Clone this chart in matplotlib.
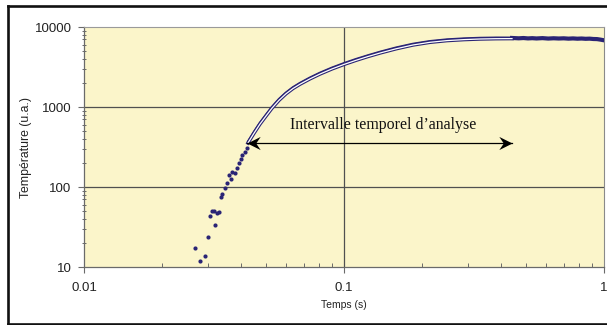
import matplotlib
matplotlib.use('Agg')
import matplotlib.pyplot as plt
from matplotlib.lines import Line2D
from matplotlib.path import Path
from matplotlib.ticker import FixedLocator, FixedFormatter, NullFormatter

# ---------------- data ----------------
# early scattered measurement points (s, u.a.)
scatter_t = [0.0267, 0.0279, 0.0293, 0.0301, 0.0305, 0.0310, 0.0315, 0.0320, 0.0326,
             0.0332, 0.0336, 0.0340, 0.0348, 0.0356, 0.0361, 0.0369, 0.0372, 0.0380,
             0.0388, 0.0395, 0.0401, 0.0407, 0.0416, 0.0422]
scatter_T = [17.4, 11.9, 13.6, 23.5, 43.4, 49.5, 49.5, 33.2, 47.0,
             49.0, 75.7, 81.5, 98.0, 111.0, 141.0, 126.0, 152.0, 148.0,
             174.0, 201.0, 222.0, 251.0, 276.0, 305.0]

# dense measurement curve (drawn as a dark line)
data_t = [0.04272, 0.04507, 0.04753, 0.05012, 0.05284, 0.05623, 0.05982, 0.06364,
          0.06772, 0.07401, 0.08086, 0.08991, 0.1000, 0.1112, 0.1237, 0.1376,
          0.1585, 0.1842, 0.2141, 0.2489, 0.2894, 0.3334, 0.3842, 0.4428]
data_T = [366, 486, 632, 795, 995, 1250, 1505, 1755, 1985, 2320, 2665, 3085,
          3510, 3950, 4400, 4870, 5500, 6130, 6620, 6950, 7150, 7270, 7320, 7300]

# plateau of the measurement (thick band)
plateau_t = [0.443, 0.47, 0.49, 0.51, 0.53, 0.55, 0.58, 0.61, 0.64, 0.67, 0.70,
             0.73, 0.76, 0.79, 0.82, 0.85, 0.88, 0.91, 0.94, 0.97, 1.0]
plateau_T = [7290, 7220, 7280, 7200, 7250, 7190, 7260, 7170, 7230, 7180, 7220,
             7150, 7200, 7140, 7180, 7120, 7150, 7080, 7060, 6950, 6820]

# fitted curve over the analysis interval
fit_t = [0.04272, 0.04507, 0.04753, 0.05012, 0.05284, 0.05623, 0.05982, 0.06364,
         0.06772, 0.07401, 0.08086, 0.08991, 0.1000, 0.1112, 0.1237, 0.1376,
         0.1585, 0.1842, 0.2141, 0.2489, 0.2894, 0.3334, 0.3842, 0.4428]
fit_T = [354.8, 470.5, 613.2, 771.6, 966.1, 1212.8, 1462.2, 1703, 1927.5, 2251,
         2585, 2994, 3408, 3835, 4278, 4732, 5340, 5957, 6438, 6761, 6957,
         7079, 7141, 7161]

arrow_t = [0.0425, 0.4441]
arrow_T = 352
label_text = "Intervalle temporel d\u2019analyse"
label_t, label_T = 0.0620, 596

x_ticks = [0.01, 0.1, 1]
x_labels = ["0.01", "0.1", "1"]
y_ticks = [10, 100, 1000, 10000]
y_labels = ["10", "100", "1000", "10000"]

# ---------------- figure ----------------
W, H = 607, 325
fig = plt.figure(figsize=(W / 100, H / 100), dpi=100)
fig.patch.set_facecolor('white')
ax = fig.add_axes([84 / W, (H - 267) / H, (604 - 84) / W, 240 / H])

NAVY = '#2a2475'
ax.set_facecolor('#fbf5ca')
ax.set_xscale('log')
ax.set_yscale('log')
ax.set_xlim(0.01, 1)
ax.set_ylim(10, 10000)

# grid
for gx in [0.1]:
    ax.axvline(gx, color='#505050', lw=0.9, zorder=1)
for gy in [100, 1000]:
    ax.axhline(gy, color='#505050', lw=0.9, zorder=1)

# measurement
ax.plot(scatter_t, scatter_T, 'o', color=NAVY, ms=3.0, mew=0, zorder=3)
ax.plot(data_t, data_T, '-', color=NAVY, lw=1.9, zorder=3, solid_capstyle='round')
ax.plot(plateau_t, plateau_T, '-', color=NAVY, lw=3.0, zorder=3)
# fit: white line with navy outline
ax.plot(fit_t, fit_T, '-', color=NAVY, lw=2.5, zorder=4)
ax.plot(fit_t, fit_T, '-', color='white', lw=0.9, zorder=5)

# arrow: shaft + stealth heads
ax.plot(arrow_t, [arrow_T, arrow_T], '-', color='black', lw=0.9, zorder=6)
left_head = Path([(0, 0), (1, 0.5), (0.66, 0), (1, -0.5), (0, 0)],
                 [Path.MOVETO, Path.LINETO, Path.LINETO, Path.LINETO, Path.CLOSEPOLY])
right_head = Path([(0, 0), (-1, 0.5), (-0.66, 0), (-1, -0.5), (0, 0)],
                  [Path.MOVETO, Path.LINETO, Path.LINETO, Path.LINETO, Path.CLOSEPOLY])
ax.plot([arrow_t[0]], [arrow_T], marker=left_head, ms=19, color='black', mew=0, zorder=7)
ax.plot([arrow_t[1]], [arrow_T], marker=right_head, ms=19, color='black', mew=0, zorder=7)

ax.text(label_t, label_T, label_text, ha='left', va='center',
        fontsize=11.4, family='Liberation Serif', color='#111111', zorder=6)

# spines
for s in ['left', 'bottom']:
    ax.spines[s].set_color('#6a6a6a')
    ax.spines[s].set_linewidth(0.9)
ax.spines['top'].set_color('#9a9a9a')
ax.spines['top'].set_linewidth(0.8)
ax.spines['right'].set_color('#8a8a8a')
ax.spines['right'].set_linewidth(0.8)

# ticks
ax.xaxis.set_major_locator(FixedLocator(x_ticks))
ax.xaxis.set_major_formatter(FixedFormatter(x_labels))
ax.yaxis.set_major_locator(FixedLocator(y_ticks))
ax.yaxis.set_major_formatter(FixedFormatter(y_labels))
ax.xaxis.set_minor_formatter(NullFormatter())
ax.yaxis.set_minor_formatter(NullFormatter())
ax.tick_params(axis='x', which='major', direction='out', length=4, width=0.8,
               color='#6a6a6a', pad=7, labelsize=9.5, labelcolor='#222222')
ax.tick_params(axis='x', which='minor', direction='in', length=3, width=0.7,
               color='#6a6a6a')
ax.tick_params(axis='y', which='major', direction='out', length=4, width=0.8,
               color='#6a6a6a', pad=5, labelsize=9.5, labelcolor='#222222')
ax.tick_params(axis='y', which='minor', direction='inout', length=3, width=0.7,
               color='#6a6a6a')
for lab in ax.get_xticklabels() + ax.get_yticklabels():
    lab.set_family('Liberation Sans')

fig.text(344 / W, (H - 305) / H, 'Temps (s)', ha='center', va='center',
         fontsize=7.5, family='Liberation Sans', color='#222222')
fig.text(26 / W, (H - 147) / H, 'Température (u.a.)', ha='center', va='center',
         rotation=90, fontsize=8.8, family='Liberation Sans', color='#222222')

# outer frame (cropped on the right)
fw = 1.9
fig.add_artist(Line2D([7.5 / W, 7.5 / W], [(H - 324) / H, (H - 6) / H],
                      transform=fig.transFigure, color='#111111', lw=fw))
fig.add_artist(Line2D([7.5 / W, 1.02], [(H - 6) / H, (H - 6) / H],
                      transform=fig.transFigure, color='#111111', lw=fw))
fig.add_artist(Line2D([7.5 / W, 1.02], [(H - 324) / H, (H - 324) / H],
                      transform=fig.transFigure, color='#111111', lw=fw))

fig.savefig('out.png', dpi=100, facecolor='white')
